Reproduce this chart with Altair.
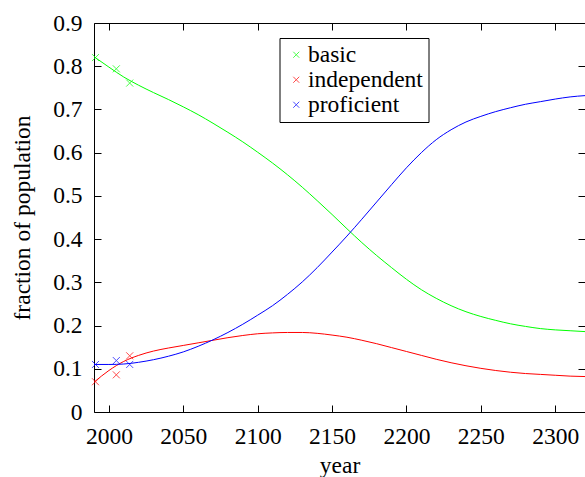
import altair as alt
import pandas as pd

FONT = "Liberation Serif"
FS = 23.5

# ---- data ----
curve_years = [1990, 2000, 2010, 2020, 2030, 2040, 2050, 2060, 2070, 2080, 2090,
               2100, 2110, 2120, 2130, 2140, 2150, 2160, 2170, 2180, 2190, 2200,
               2210, 2220, 2230, 2240, 2250, 2260, 2270, 2280, 2290, 2300, 2310, 2320]
basic_curve = [0.822, 0.798, 0.775, 0.756, 0.739, 0.723, 0.706, 0.688, 0.668, 0.647, 0.625,
               0.601, 0.576, 0.549, 0.520, 0.489, 0.457, 0.424, 0.392, 0.362, 0.334, 0.307,
               0.283, 0.263, 0.246, 0.232, 0.221, 0.212, 0.204, 0.198, 0.193, 0.190, 0.188, 0.186]
independent_curve = [0.069, 0.096, 0.117, 0.131, 0.141, 0.148, 0.154, 0.160, 0.166, 0.172, 0.177,
                     0.181, 0.183, 0.184, 0.184, 0.182, 0.178, 0.173, 0.166, 0.158, 0.149, 0.140,
                     0.131, 0.122, 0.114, 0.107, 0.101, 0.096, 0.092, 0.089, 0.087, 0.085, 0.083, 0.082]
proficient_curve = [0.110, 0.110, 0.111, 0.115, 0.121, 0.129, 0.139, 0.152, 0.167, 0.184, 0.203,
                    0.224, 0.246, 0.272, 0.301, 0.334, 0.370, 0.407, 0.446, 0.486, 0.526, 0.565,
                    0.600, 0.630, 0.653, 0.671, 0.684, 0.695, 0.704, 0.712, 0.718, 0.724, 0.729, 0.732]

obs_years = [1991, 2005, 2014]
basic_obs = [0.820, 0.794, 0.761]
independent_obs = [0.070, 0.086, 0.130]
proficient_obs = [0.110, 0.119, 0.110]

series_names = ["basic", "independent", "proficient"]
series_colors = ["#00ff00", "#ff0000", "#0000ff"]

x_ticks = [2000, 2050, 2100, 2150, 2200, 2250, 2300]
y_ticks = [0, 0.1, 0.2, 0.3, 0.4, 0.5, 0.6, 0.7, 0.8, 0.9]

rows = []
for name, vals in zip(series_names, [basic_curve, independent_curve, proficient_curve]):
    for yr, v in zip(curve_years, vals):
        rows.append({"year": yr, "value": v, "series": name})
df_lines = pd.DataFrame(rows)

prow = []
for name, vals in zip(series_names, [basic_obs, independent_obs, proficient_obs]):
    for yr, v in zip(obs_years, vals):
        prow.append({"year": yr, "value": v, "series": name})
df_pts = pd.DataFrame(prow)

W, H = 491, 389
XPATH = "M-1,-1L1,1M-1,1L1,-1"

xscale = alt.Scale(domain=[1990, 2320], nice=False, zero=False)
yscale = alt.Scale(domain=[0, 0.9], nice=False, zero=False)
cscale = alt.Scale(domain=series_names, range=series_colors)

axis_x_main = alt.Axis(orient="bottom", values=x_ticks, format="d", ticks=False, domain=True,
                       domainColor="black", domainWidth=1, grid=False,
                       labelFont=FONT, labelFontSize=FS, labelColor="black", labelPadding=12,
                       labelFlush=False, labelOverlap=False,
                       title="year", titleFont=FONT, titleFontSize=FS, titleFontWeight="normal",
                       titleColor="black", titlePadding=6)
axis_y_main = alt.Axis(orient="left", values=y_ticks,
                       labelExpr="datum.value == 0 ? '0' : format(datum.value, '.1f')",
                       ticks=False, domain=True, domainColor="black", domainWidth=1, grid=False,
                       labelFont=FONT, labelFontSize=FS, labelColor="black", labelPadding=12,
                       labelFlush=False, labelOverlap=False,
                       title="fraction of population", titleFont=FONT, titleFontSize=FS,
                       titleFontWeight="normal", titleColor="black", titlePadding=18)

# inward ticks on bottom and left
axis_x_bot_in = alt.Axis(orient="top", offset=-H, values=x_ticks, labels=False, domain=False,
                         ticks=True, tickSize=7, tickColor="black", tickWidth=1, grid=False, title=None)
axis_y_left_in = alt.Axis(orient="right", offset=-W, values=y_ticks, labels=False, domain=False,
                          ticks=True, tickSize=7, tickColor="black", tickWidth=1, grid=False, title=None)
# top border with inward ticks, right mirror ticks
axis_x_top = alt.Axis(orient="bottom", offset=-H, values=x_ticks, labels=False, domain=True,
                      domainColor="black", domainWidth=1,
                      ticks=True, tickSize=7, tickColor="black", tickWidth=1, grid=False, title=None)
axis_y_right = alt.Axis(orient="left", offset=-W, values=y_ticks, labels=False, domain=True,
                        domainColor="black", domainWidth=1,
                        ticks=True, tickSize=7, tickColor="black", tickWidth=1, grid=False, title=None)

legend = alt.Legend(orient="none", legendX=185.5, legendY=15, title=None,
                    strokeColor="black", fillColor="white", padding=5, cornerRadius=0,
                    symbolType=XPATH, symbolSize=36, symbolStrokeWidth=1, symbolFillColor="transparent",
                    symbolOffset=0, labelOffset=0, rowPadding=0,
                    labelFont=FONT, labelFontSize=FS, labelColor="black", labelLimit=300)

lines = alt.Chart(df_lines).mark_line(strokeWidth=1, clip=True, interpolate="monotone").encode(
    x=alt.X("year:Q", scale=xscale, axis=axis_x_main),
    y=alt.Y("value:Q", scale=yscale, axis=axis_y_main),
    color=alt.Color("series:N", scale=cscale, legend=legend),
)

points = alt.Chart(df_pts).mark_point(shape=XPATH, filled=False, size=49, strokeWidth=1).encode(
    x=alt.X("year:Q", scale=xscale, axis=axis_x_bot_in),
    y=alt.Y("value:Q", scale=yscale, axis=axis_y_left_in),
    color=alt.Color("series:N", scale=cscale, legend=legend),
)

frame = alt.Chart(df_lines).mark_line(opacity=0).encode(
    x=alt.X("year:Q", scale=xscale, axis=axis_x_top),
    y=alt.Y("value:Q", scale=yscale, axis=axis_y_right),
    detail="series:N",
)

chart = alt.layer(lines, points, frame).resolve_axis(
    x="independent", y="independent"
).properties(
    width=W, height=H,
    autosize=alt.AutoSizeParams(type="none"),
    padding={"left": 94, "top": 23, "right": 0, "bottom": 65},
    background="white",
).configure(
    font=FONT
).configure_axis(
    labelFont=FONT, titleFont=FONT
).configure_legend(
    labelFont=FONT, titleFont=FONT
).configure_view(stroke=None)

chart.save("out.html", embed_options={"renderer": "svg", "actions": False})
